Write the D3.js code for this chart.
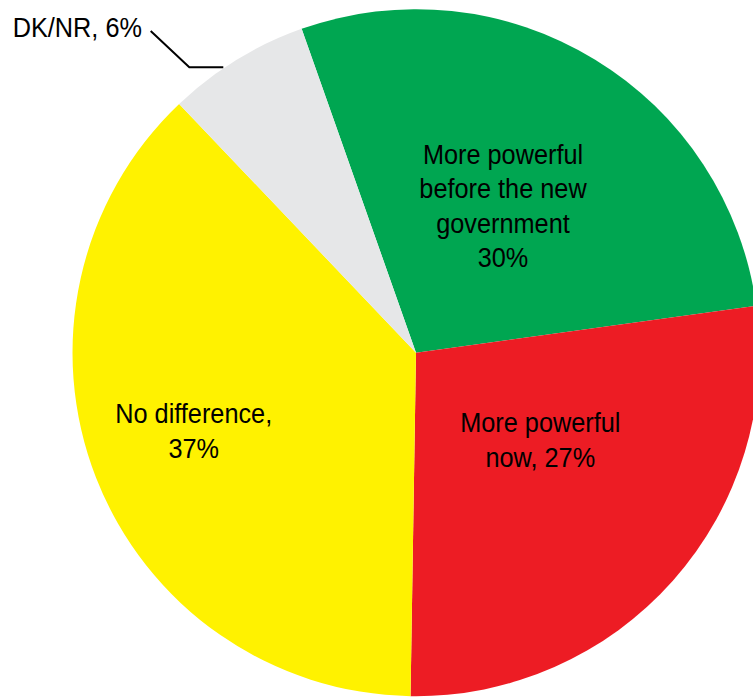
<!DOCTYPE html>
<html>
<head>
<meta charset="utf-8">
<script src="https://cdn.jsdelivr.net/npm/d3@7"></script>
<style>
  html, body { margin: 0; padding: 0; background: #ffffff; }
  svg { display: block; }
</style>
</head>
<body>
<script>
const categories = ["More powerful before the new government", "More powerful now", "No difference", "DK/NR"];
const values = [28.2, 27.4, 37.6, 6.7];
const labelLines = [
  ["More powerful", "before the new", "government", "30%"],
  ["More powerful", "now, 27%"],
  ["No difference,", "37%"],
  ["DK/NR, 6%"]
];
const colors = ["#00a651", "#ed1c24", "#fff200", "#e6e7e8"];

const W = 753, H = 698;
const cx = 416, cy = 352.7, R = 343.5;
const fontFamily = "'Liberation Sans', Arial, sans-serif";
const fontSize = 27.5;
const squeeze = 0.92;
const lineH = 34.3;

const svg = d3.select("body").append("svg").attr("width", W).attr("height", H);
const g = svg.append("g").attr("transform", `translate(${cx},${cy})`);

const startDeg = -19.45;
const pie = d3.pie().sort(null).value(d => d)
  .startAngle(startDeg * Math.PI / 180)
  .endAngle((startDeg + 360) * Math.PI / 180);
const arcs = pie(values);
const arc = d3.arc().innerRadius(0).outerRadius(R);

g.selectAll("path.slice").data(arcs).enter().append("path")
  .attr("class", "slice")
  .attr("d", arc)
  .attr("fill", (d, i) => colors[i]);

// Inside labels: first-baseline centre positions
const labelPos = [
  { x: 503, y: 164 },
  { x: 540.3, y: 432.3 },
  { x: 193.7, y: 423.3 }
];
labelPos.forEach((p, i) => {
  const t = svg.append("text")
    .attr("transform", `translate(${p.x},${p.y}) scale(${squeeze},1)`)
    .attr("text-anchor", "middle")
    .attr("font-family", fontFamily)
    .attr("font-size", fontSize)
    .attr("fill", "#000");
  labelLines[i].forEach((ln, j) => {
    t.append("tspan").attr("x", 0).attr("y", j * lineH).text(ln);
  });
});

// DK/NR outside label with leader line
svg.append("text")
  .attr("transform", `translate(12.7,36.7) scale(${squeeze},1)`)
  .attr("font-family", fontFamily)
  .attr("font-size", fontSize)
  .attr("fill", "#000")
  .text(labelLines[3][0]);

svg.append("polyline")
  .attr("points", [[150.7, 31], [189.3, 67.3], [223.3, 67.3]].map(p => p.join(",")).join(" "))
  .attr("fill", "none")
  .attr("stroke", "#000")
  .attr("stroke-width", 2);
</script>
</body>
</html>
